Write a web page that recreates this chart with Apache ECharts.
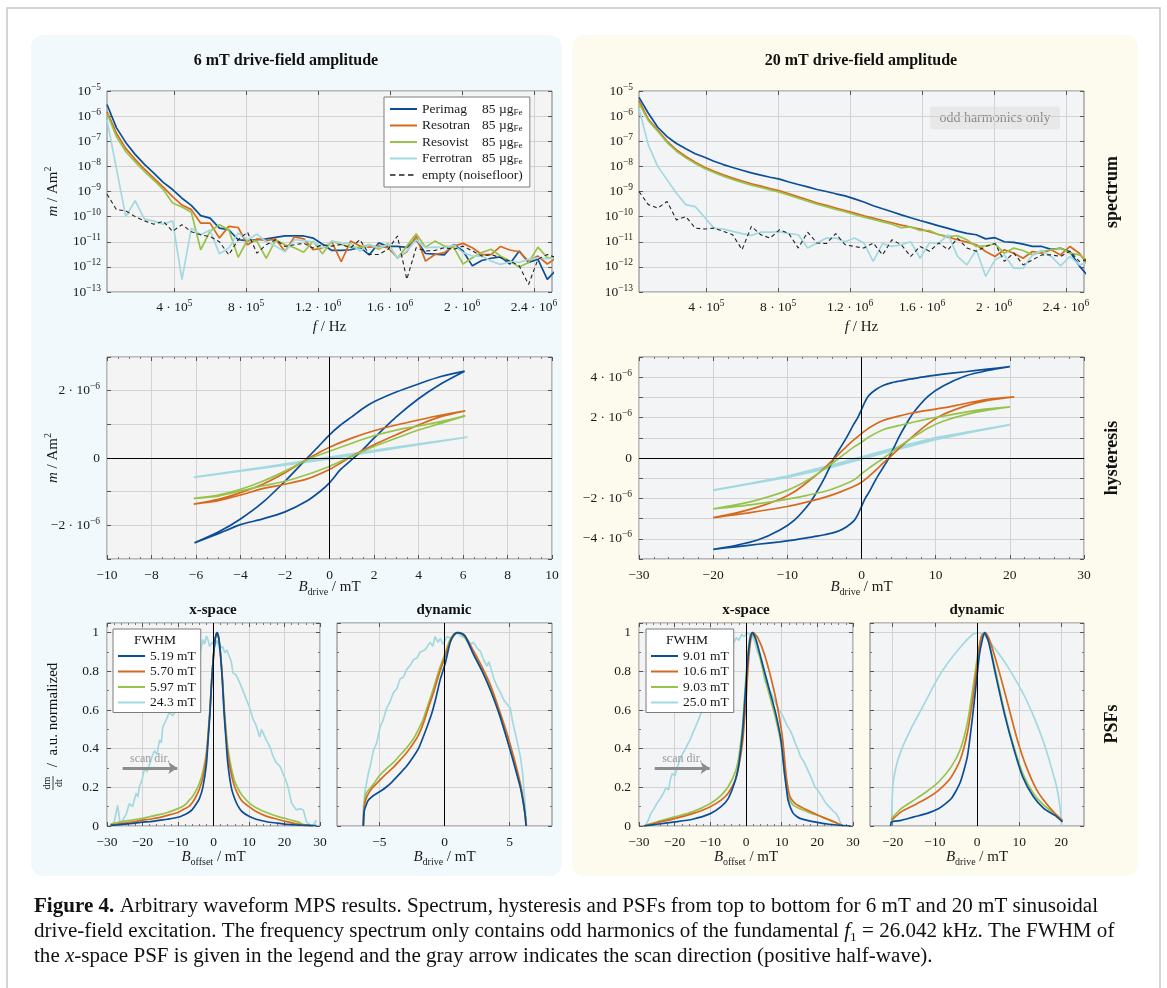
<!DOCTYPE html>
<html><head><meta charset="utf-8">
<script src="https://cdn.jsdelivr.net/npm/echarts@6/dist/echarts.min.js"></script>
<style>html,body{margin:0;padding:0;background:#fff}#c{width:1167px;height:988px}</style>
</head><body><div id="c"></div>
<script>
// ---------------- DATA ----------------
const F1 = 26042; // fundamental [Hz]
const harmonicOrders = [1,3,5,7,9,11,13,15,17,19,21,23,25,27,29,31,33,35,37,39,41,43,45,47,49,51,53,55,57,59,61,63,65,67,69,71,73,75,77,79,81,83,85,87,89,91,93,95,97];
const specTicks = [4e5, 8e5, 1.2e6, 1.6e6, 2e6, 2.4e6];
const specNames = ['Perimag','Resotran','Resovist','Ferrotran','empty (noisefloor)'];
const fwhm6 = ['5.19 mT','5.70 mT','5.97 mT','24.3 mT'];
const fwhm20 = ['9.01 mT','10.6 mT','9.03 mT','25.0 mT'];

// spectra, 6 mT (Am^2, at odd harmonics)
const perimag6 = [2.9e-6,3.5e-7,9e-8,3e-8,1.2e-8,5.4e-9,2.3e-9,1.2e-9,5.4e-10,2.8e-10,1.1e-10,8.7e-11,3.5e-11,3e-11,1.2e-11,1.1e-11,1.2e-11,1.3e-11,1.5e-11,1.7e-11,1.7e-11,1.7e-11,1.4e-11,8e-12,4.5e-12,4.5e-12,4.8e-12,6e-12,3e-12,9e-12,6.5e-12,6.5e-12,6e-12,1.2e-11,3.4e-12,3.2e-12,3e-12,7.8e-12,4.3e-12,1.1e-12,1.8e-12,2.2e-12,2.5e-12,1.3e-12,4.3e-12,1.5e-12,2e-12,3.2e-13,8e-13];
const resotran6 = [1.5e-6,2.1e-7,5.2e-8,1.9e-8,7.7e-9,3.4e-9,1.5e-9,6.3e-10,2.9e-10,1.9e-10,5.5e-11,5.5e-11,1.4e-11,4.1e-11,3.7e-11,7.6e-12,1.3e-11,1.1e-11,1.3e-11,4.1e-12,1.55e-11,1.3e-11,4.8e-12,5.6e-12,9.8e-12,1.6e-12,1.06e-11,6.7e-12,6.1e-12,6.7e-12,5.8e-12,2.3e-12,4e-12,1.7e-11,1.7e-12,3.1e-12,3.7e-12,6.7e-12,8.6e-12,5.8e-12,3.1e-12,3.1e-12,6.5e-12,4.7e-12,4e-12,1.7e-12,2.7e-12,1.3e-12,2.3e-12];
const resovist6 = [1.3e-6,1.55e-7,3.9e-8,1.5e-8,6.3e-9,2.8e-9,1.2e-9,3.5e-10,2.4e-10,1.5e-10,4.8e-12,2.6e-11,4.8e-11,3e-11,2.4e-12,1.2e-11,1.05e-11,2.2e-12,1.2e-11,7.6e-12,5.8e-12,3.8e-12,1.05e-11,3.3e-12,1.06e-11,7.8e-12,6.1e-12,5.8e-12,7.8e-12,5e-12,8.3e-12,2.2e-12,6.7e-12,2.1e-11,6.1e-12,1.06e-11,6.7e-12,6.1e-12,1.3e-12,2.3e-12,3.7e-12,5e-12,2.7e-12,1.7e-12,9.8e-13,1.5e-12,6.1e-12,2.3e-12,2.3e-12];
const ferrotran6 = [7e-7,8.5e-9,1e-10,4.3e-10,8e-11,6.6e-11,5e-11,6.8e-11,3.1e-13,3.5e-11,1.9e-11,2.9e-11,3.3e-12,5.6e-12,2.2e-11,1.2e-11,2e-11,1e-11,6.7e-12,4e-12,1.2e-11,1.1e-11,9.8e-12,5.6e-12,1.06e-11,9.1e-12,8.3e-12,4.3e-12,7.8e-12,5.8e-12,7.8e-12,2.3e-12,4.3e-12,1.2e-11,5.8e-12,6.1e-12,5.8e-12,7.4e-12,3.7e-12,2.7e-12,2.7e-12,1.7e-12,1.26e-12,1.6e-12,1.5e-12,2e-12,2.3e-12,2.1e-12,2.3e-12];
const empty6 = [7.9e-10,1.9e-10,1.7e-10,1e-10,6.8e-11,5e-11,6.5e-11,2.6e-11,4.8e-11,2.5e-11,1.9e-11,1.6e-11,1e-11,3e-12,1.2e-11,2.4e-11,3.5e-12,7.6e-12,1.2e-11,6.5e-12,7.6e-12,8.7e-12,5.6e-12,7.6e-12,6.7e-12,7.8e-12,5.8e-12,1.2e-11,3.1e-12,3.1e-12,5e-12,1.7e-11,3.2e-13,5.8e-12,4.3e-12,4.5e-12,5.8e-12,5e-12,6.7e-12,4.3e-12,2.7e-12,3.1e-12,2.3e-12,1.7e-12,1.1e-12,2e-13,2e-12,3.1e-12,2.3e-12];

// spectra, 20 mT
const perimag20 = [5.6e-6,1.3e-6,3.6e-7,1.53e-7,8.1e-8,5e-8,3.2e-8,2.3e-8,1.6e-8,1.18e-8,9e-9,7e-9,5.5e-9,4.5e-9,3.7e-9,3.1e-9,2.4e-9,1.9e-9,1.53e-9,1.2e-9,1e-9,8.1e-10,6.7e-10,5.1e-10,3.8e-10,2.7e-10,2.05e-10,1.56e-10,1.18e-10,9e-11,7e-11,5.5e-11,4.3e-11,3.4e-11,2.65e-11,2.15e-11,1.9e-11,1.3e-11,1.45e-11,1e-11,9.5e-12,8e-12,6.5e-12,6.5e-12,5e-12,5.5e-12,4e-12,1.1e-12,4e-13];
const resotran20 = [4.1e-6,7.5e-7,2.8e-7,1e-7,4.5e-8,2.46e-8,1.47e-8,9.3e-9,6.4e-9,4.6e-9,3.4e-9,2.6e-9,2e-9,1.63e-9,1.3e-9,1.06e-9,8.1e-10,6.1e-10,4.7e-10,3.5e-10,2.8e-10,2.2e-10,1.76e-10,1.38e-10,1.08e-10,8.7e-11,7e-11,5.7e-11,4.6e-11,3.8e-11,3.2e-11,2.5e-11,1.95e-11,1.53e-11,1.2e-11,9.7e-12,7.6e-12,4.1e-12,2.6e-12,4.8e-12,3.5e-12,2.2e-12,4.1e-12,3.5e-12,4.8e-12,3e-12,6.5e-12,3.5e-12,1.1e-12];
const resovist20 = [3.2e-6,6.6e-7,2.5e-7,8.9e-8,4e-8,2.18e-8,1.3e-8,8.2e-9,5.7e-9,4.1e-9,3e-9,2.3e-9,1.8e-9,1.44e-9,1.16e-9,9.4e-10,7.1e-10,5.4e-10,4.1e-10,3.1e-10,2.5e-10,1.93e-10,1.56e-10,1.22e-10,9.5e-11,7.7e-11,6.2e-11,5e-11,3.6e-11,3.9e-11,2.8e-11,2.8e-11,1.9e-11,1.63e-11,1.73e-11,1.2e-11,6.5e-12,6.8e-12,8.3e-12,3.5e-12,5.6e-12,4.5e-12,3e-12,4.1e-12,4.8e-12,5.6e-12,3.5e-12,3e-12,1.65e-12];
const ferrotran20 = [2e-6,7e-8,1e-8,2.9e-9,8.5e-10,3e-10,2.5e-10,9.5e-11,3.5e-11,3.2e-11,2.6e-11,2.1e-11,1.8e-11,2.4e-11,2.4e-11,2.5e-11,2.1e-11,1.9e-11,5.6e-12,8.9e-12,1.4e-11,1.4e-11,1e-11,1.4e-11,8.9e-12,1.65e-12,8.5e-12,6.5e-12,7.6e-12,1e-11,2.2e-12,8.9e-12,8.9e-12,1.9e-11,2.6e-12,1.2e-12,4.8e-12,4.2e-13,1.9e-12,3e-12,8.9e-13,8.9e-13,3e-12,4.6e-12,2.6e-12,1.1e-12,2.6e-12,1.2e-12,1.5e-12];
const empty20 = [1e-9,3e-10,2.2e-10,4e-10,7.4e-11,1e-10,3.5e-11,3.2e-11,3.5e-11,2.6e-11,1.9e-11,4.8e-12,4.1e-11,1.9e-11,1.4e-11,3e-11,2.1e-11,5.6e-12,2.4e-11,8.9e-12,8.5e-12,2.1e-11,7.6e-12,6.5e-12,5.6e-12,8.9e-12,3e-12,1.2e-11,7.6e-12,2.6e-12,6.5e-12,4.2e-12,8.9e-12,4.8e-12,1.4e-11,5.6e-12,4.2e-12,6.5e-12,8.5e-12,1.65e-12,3.6e-12,1.2e-12,1.9e-12,3e-12,3e-12,2.6e-12,4.2e-12,1.65e-12,2e-12];

// hysteresis loops [B_drive mT, m Am^2], 6 mT
const hystPerimag6 = [[-6.07,-2.52e-6],[-5,-2.25e-6],[-4,-1.98e-6],[-3,-1.81e-6],[-2,-1.6e-6],[-1,-1.27e-6],[-0.4,-0.98e-6],[0,-0.74e-6],[0.5,-0.34e-6],[1,-0.05e-6],[1.5,0.25e-6],[2,0.59e-6],[3,1.22e-6],[4,1.76e-6],[5,2.2e-6],[6.07,2.58e-6],[5,2.42e-6],[4,2.2e-6],[3,1.96e-6],[2,1.67e-6],[1.5,1.47e-6],[1,1.22e-6],[0.5,0.98e-6],[0,0.69e-6],[-0.5,0.34e-6],[-1,0],[-2,-0.69e-6],[-3,-1.32e-6],[-4,-1.81e-6],[-5,-2.2e-6],[-6.07,-2.52e-6]];
const hystResotran6 = [[-6.1,-1.37e-6],[-5,-1.27e-6],[-4,-1.1e-6],[-3,-0.91e-6],[-2,-0.78e-6],[-1,-0.62e-6],[0,-0.34e-6],[0.5,-0.15e-6],[1,0.05e-6],[2,0.39e-6],[3,0.69e-6],[4,0.98e-6],[5,1.23e-6],[6.1,1.4e-6],[5,1.27e-6],[4,1.13e-6],[3,0.98e-6],[2,0.81e-6],[1,0.59e-6],[0,0.32e-6],[-0.5,0.15e-6],[-1,-0.03e-6],[-2,-0.44e-6],[-3,-0.78e-6],[-4,-1.03e-6],[-5,-1.23e-6],[-6.1,-1.37e-6]];
const hystResovist6 = [[-6.1,-1.2e-6],[-5,-1.13e-6],[-4,-0.98e-6],[-3,-0.83e-6],[-2,-0.69e-6],[-1,-0.49e-6],[0,-0.25e-6],[1,0.05e-6],[2,0.34e-6],[3,0.59e-6],[4,0.83e-6],[5,1.03e-6],[6.1,1.25e-6],[5,1.08e-6],[4,0.95e-6],[3,0.83e-6],[2,0.66e-6],[1,0.44e-6],[0,0.2e-6],[-1,-0.05e-6],[-2,-0.39e-6],[-3,-0.69e-6],[-4,-0.93e-6],[-5,-1.1e-6],[-6.1,-1.2e-6]];
const hystFerrotran6 = [[-6.1,-0.57e-6],[-3,-0.3e-6],[0,-0.02e-6],[3,0.3e-6],[6.2,0.62e-6],[3,0.32e-6],[0,0.02e-6],[-3,-0.28e-6],[-6.1,-0.57e-6]];

// hysteresis loops, 20 mT
const hystPerimag20 = [[-20,-4.52e-6],[-17,-4.4e-6],[-14,-4.27e-6],[-11,-4.15e-6],[-9,-4.05e-6],[-7,-3.93e-6],[-6,-3.87e-6],[-5,-3.8e-6],[-4,-3.72e-6],[-3,-3.6e-6],[-2,-3.4e-6],[-1,-3.1e-6],[-0.5,-2.8e-6],[0,-2.4e-6],[0.5,-2.0e-6],[1,-1.7e-6],[2,-1.02e-6],[3,-0.42e-6],[3.7,0],[5,1.0e-6],[6,1.66e-6],[7,2.24e-6],[9,3.06e-6],[11,3.56e-6],[14,4.06e-6],[17,4.33e-6],[20,4.52e-6],[17,4.4e-6],[14,4.27e-6],[11,4.15e-6],[9,4.05e-6],[7,3.93e-6],[6,3.87e-6],[5,3.8e-6],[4,3.72e-6],[3,3.6e-6],[2,3.4e-6],[1,3.1e-6],[0.5,2.8e-6],[0,2.4e-6],[-0.5,2.0e-6],[-1,1.7e-6],[-2,1.02e-6],[-3,0.42e-6],[-3.7,0],[-5,-1.0e-6],[-6,-1.66e-6],[-7,-2.24e-6],[-9,-3.06e-6],[-11,-3.56e-6],[-14,-4.06e-6],[-17,-4.33e-6],[-20,-4.52e-6]];
const hystResotran20 = [[-20,-2.95e-6],[-15,-2.7e-6],[-10,-2.4e-6],[-7,-2.15e-6],[-5,-1.95e-6],[-3,-1.7e-6],[-1,-1.4e-6],[0,-1.2e-6],[1,-0.91e-6],[2,-0.58e-6],[3,-0.22e-6],[3.7,0],[5,0.45e-6],[7,1.1e-6],[9,1.7e-6],[11,2.15e-6],[14,2.57e-6],[17,2.85e-6],[20.6,3.03e-6],[17,2.9e-6],[14,2.7e-6],[11,2.48e-6],[7,2.24e-6],[5,2.07e-6],[3,1.87e-6],[1,1.49e-6],[0,1.21e-6],[-1,0.91e-6],[-2,0.58e-6],[-3,0.22e-6],[-3.6,0],[-5,-0.5e-6],[-7,-1.11e-6],[-9,-1.66e-6],[-11,-2.04e-6],[-14,-2.43e-6],[-17,-2.73e-6],[-20,-2.95e-6]];
const hystResovist20 = [[-20,-2.52e-6],[-15,-2.32e-6],[-10,-2.04e-6],[-7,-1.82e-6],[-5,-1.66e-6],[-3,-1.41e-6],[-1,-1.08e-6],[0,-0.78e-6],[1,-0.5e-6],[2,-0.25e-6],[3,0],[5,0.55e-6],[7,1.04e-6],[9,1.49e-6],[11,1.82e-6],[14,2.15e-6],[17,2.37e-6],[20,2.53e-6],[17,2.43e-6],[14,2.27e-6],[11,2.07e-6],[9,1.94e-6],[7,1.77e-6],[5,1.6e-6],[3,1.41e-6],[1,1.04e-6],[0,0.78e-6],[-1,0.55e-6],[-2,0.28e-6],[-3,0],[-5,-0.55e-6],[-7,-1.04e-6],[-9,-1.44e-6],[-11,-1.74e-6],[-14,-2.07e-6],[-17,-2.32e-6],[-20,-2.52e-6]];
const hystFerrotran20 = [[-20,-1.6e-6],[-15,-1.28e-6],[-10,-0.95e-6],[-5,-0.55e-6],[0,-0.05e-6],[5,0.45e-6],[10,0.92e-6],[15,1.3e-6],[20,1.65e-6],[15,1.33e-6],[10,1.0e-6],[5,0.55e-6],[0,0.05e-6],[-5,-0.45e-6],[-10,-0.9e-6],[-15,-1.26e-6],[-20,-1.6e-6]];

// x-space PSFs, 6 mT  [B_offset mT, normalized]
const xsPerimag6 = [[-29,0.003],[-27,0.006],[-25,0.01],[-23,0.013],[-20,0.02],[-18,0.022],[-15,0.03],[-13,0.035],[-10,0.045],[-8,0.06],[-7,0.07],[-6,0.085],[-5,0.11],[-4,0.14],[-3,0.2],[-2,0.32],[-1.5,0.45],[-1,0.58],[-0.5,0.75],[0,0.88],[0.5,0.97],[1,1.0],[1.5,0.97],[2,0.88],[2.5,0.75],[3,0.58],[3.5,0.45],[4,0.33],[5,0.2],[6,0.14],[7,0.1],[8,0.075],[10,0.05],[12,0.035],[15,0.022],[18,0.015],[20,0.01],[23,0.006],[25,0.004],[27,0.003],[29,0.002]];
const xsResotran6 = [[-29,0.005],[-27,0.01],[-25,0.015],[-23,0.02],[-20,0.03],[-18,0.035],[-15,0.045],[-13,0.055],[-10,0.07],[-8,0.09],[-7,0.1],[-6,0.12],[-5,0.15],[-4,0.19],[-3,0.25],[-2,0.36],[-1.5,0.47],[-1,0.6],[-0.5,0.76],[0,0.88],[0.5,0.97],[1,1.0],[1.5,0.97],[2,0.88],[2.5,0.76],[3,0.6],[3.5,0.48],[4,0.38],[5,0.27],[6,0.2],[7,0.16],[8,0.13],[10,0.1],[12,0.075],[15,0.05],[18,0.035],[20,0.025],[23,0.012],[25,0.005],[27,0.002],[28,0]];
const xsResovist6 = [[-29,0.01],[-27,0.018],[-25,0.025],[-23,0.03],[-20,0.04],[-18,0.048],[-15,0.06],[-13,0.07],[-10,0.09],[-8,0.11],[-7,0.13],[-6,0.15],[-5,0.18],[-4,0.22],[-3,0.28],[-2,0.38],[-1.5,0.48],[-1,0.6],[-0.5,0.76],[0,0.88],[0.5,0.97],[1,1.0],[1.5,0.97],[2,0.89],[2.5,0.77],[3,0.62],[3.5,0.5],[4,0.41],[5,0.3],[6,0.23],[7,0.19],[8,0.16],[10,0.12],[12,0.095],[15,0.07],[18,0.05],[20,0.04],[22,0.03],[24,0.02],[25,0.01],[27,0.003],[28,0]];
const xsFerrotran6 = [[-28.9,0],[-28,0.02],[-27,0.107],[-26.3,0.01],[-25.6,0.03],[-24.6,0.06],[-23.7,0.116],[-22.8,0.1],[-21.8,0.17],[-21.3,0.15],[-20.9,0.203],[-20.1,0.24],[-19.4,0.3],[-18.7,0.28],[-18,0.32],[-17.3,0.36],[-16.6,0.39],[-15.9,0.37],[-15.2,0.445],[-14.7,0.43],[-14.3,0.51],[-13.3,0.55],[-12.4,0.59],[-11.5,0.57],[-10.5,0.605],[-10,0.64],[-9.6,0.67],[-8.6,0.7],[-7.7,0.775],[-6.7,0.76],[-5.8,0.827],[-5,0.86],[-4.4,0.922],[-3.7,0.9],[-3,0.965],[-2.5,0.94],[-2,0.983],[-1.5,0.96],[-1.1,0.93],[-0.4,0.95],[0.3,0.93],[1,0.96],[1.7,0.913],[2.5,0.93],[3.2,0.896],[3.8,0.91],[4.4,0.879],[5,0.85],[5.5,0.792],[6.4,0.78],[7.4,0.74],[8.3,0.7],[9.3,0.653],[10.2,0.61],[11.2,0.55],[12,0.52],[13,0.46],[13.5,0.5],[14,0.48],[15,0.44],[15.9,0.41],[16.8,0.36],[17.7,0.326],[18.7,0.31],[19.6,0.27],[20.3,0.24],[21,0.2],[21.5,0.16],[22,0.118],[22.7,0.1],[23.4,0.083],[24.3,0.09],[25.3,0.083],[25.8,0.05],[26.2,0.02],[27,0.01],[27.6,0],[28.3,0.01],[29,0.03]];

// dynamic PSFs, 6 mT  [B_drive mT, normalized]
const dynPerimag6 = [[-6.23,0],[-6.2,0.04],[-6.15,0.08],[-6.0,0.11],[-5.85,0.133],[-5.5,0.155],[-5.2,0.168],[-4.8,0.185],[-4.44,0.203],[-4,0.23],[-3.41,0.272],[-2.9,0.31],[-2.38,0.359],[-2,0.4],[-1.62,0.463],[-1.3,0.52],[-0.97,0.584],[-0.65,0.665],[-0.33,0.757],[0.05,0.84],[0.44,0.95],[0.7,0.985],[0.95,1.0],[1.3,0.995],[1.6,0.98],[2.23,0.887],[2.9,0.8],[3.51,0.705],[4.2,0.58],[4.79,0.45],[5.3,0.33],[5.82,0.2],[6.05,0.12],[6.2,0.05],[6.26,0]];
const dynResotran6 = [[-6.23,0],[-6.2,0.06],[-6.1,0.12],[-5.9,0.16],[-5.5,0.2],[-5,0.235],[-4.44,0.272],[-3.9,0.305],[-3.41,0.341],[-2.9,0.38],[-2.38,0.428],[-2,0.47],[-1.62,0.532],[-1.2,0.62],[-0.85,0.688],[-0.4,0.79],[0,0.867],[0.4,0.95],[0.7,0.99],[1.1,1.0],[1.5,0.99],[2.23,0.906],[2.9,0.82],[3.51,0.731],[4.2,0.6],[4.79,0.48],[5.3,0.36],[5.82,0.22],[6.05,0.13],[6.2,0.05],[6.26,0]];
const dynResovist6 = [[-6.23,0],[-6.18,0.1],[-6.0,0.17],[-5.5,0.212],[-5,0.26],[-4.44,0.298],[-3.9,0.33],[-3.41,0.367],[-2.9,0.405],[-2.38,0.451],[-2,0.5],[-1.62,0.555],[-1.2,0.64],[-0.85,0.711],[-0.4,0.81],[0,0.884],[0.4,0.96],[0.7,0.99],[1,1.0],[1.4,0.99],[2.23,0.897],[2.9,0.8],[3.51,0.714],[4.2,0.58],[4.79,0.455],[5.3,0.34],[5.82,0.21],[6.05,0.12],[6.2,0.05],[6.3,0]];
const dynFerrotran6 = [[-6.25,0],[-6.22,0.1],[-6.1,0.18],[-5.85,0.27],[-5.7,0.31],[-5.46,0.39],[-5.2,0.43],[-4.95,0.51],[-4.7,0.55],[-4.44,0.61],[-4.2,0.64],[-3.92,0.69],[-3.66,0.71],[-3.41,0.76],[-3.15,0.77],[-2.9,0.81],[-2.64,0.83],[-2.38,0.86],[-2.1,0.87],[-1.87,0.9],[-1.5,0.91],[-1.1,0.95],[-0.9,0.93],[-0.72,0.98],[-0.5,0.95],[-0.33,0.97],[-0.1,0.94],[0.18,0.98],[0.55,0.97],[0.95,1.0],[1.3,0.98],[1.72,0.97],[2.0,0.94],[2.23,0.95],[2.5,0.92],[2.74,0.905],[3.0,0.86],[3.26,0.827],[3.4,0.85],[3.51,0.827],[3.8,0.76],[4.03,0.723],[4.3,0.69],[4.54,0.653],[4.8,0.63],[5.05,0.61],[5.2,0.55],[5.31,0.515],[5.6,0.43],[5.82,0.36],[6.0,0.27],[6.08,0.2],[6.2,0.1],[6.26,0]];

// x-space PSFs, 20 mT
const xsPerimag20 = [[-28.7,0],[-25,0.009],[-20,0.021],[-15,0.035],[-10,0.064],[-7,0.1],[-5,0.142],[-3,0.237],[-2,0.32],[-1,0.478],[-0.5,0.6],[0,0.737],[0.5,0.86],[1,0.948],[1.4,0.99],[1.8,1.0],[2.8,0.965],[4.3,0.861],[6.3,0.722],[8.3,0.584],[9.8,0.445],[10.8,0.272],[11.3,0.2],[11.8,0.133],[13.3,0.064],[15.3,0.038],[19.3,0.021],[23.3,0.009],[29.3,0]];
const xsResotran20 = [[-28.7,0],[-25,0.017],[-20,0.038],[-15,0.064],[-10,0.1],[-7,0.134],[-5,0.17],[-3,0.237],[-2,0.31],[-1,0.428],[-0.5,0.53],[0,0.65],[0.5,0.8],[1,0.913],[1.5,0.98],[2,1.0],[3.3,0.974],[5.3,0.88],[7.8,0.705],[9.3,0.568],[10.3,0.445],[11.3,0.255],[12.3,0.152],[13.8,0.116],[17.3,0.081],[21.3,0.047],[25.3,0.017],[27.3,0]];
const xsResovist20 = [[-28.7,0],[-25,0.021],[-20,0.047],[-15,0.073],[-10,0.116],[-7,0.159],[-5,0.203],[-3,0.28],[-2,0.359],[-1,0.51],[-0.5,0.64],[0,0.77],[0.5,0.89],[1,0.965],[1.7,1.0],[2.8,0.957],[4.3,0.84],[6.3,0.696],[8.3,0.557],[9.8,0.428],[10.8,0.272],[11.8,0.152],[13.3,0.107],[17.3,0.073],[21.3,0.047],[25.3,0.017],[27.3,0]];
const xsFerrotran20 = [[-28.2,0],[-27.4,0.03],[-26.7,0.064],[-25.8,0.09],[-25,0.116],[-24.1,0.14],[-23.2,0.168],[-22.4,0.2],[-21.7,0.186],[-21.2,0.24],[-20.7,0.272],[-19.9,0.26],[-19.2,0.307],[-18.4,0.35],[-17.7,0.376],[-16.7,0.41],[-15.7,0.445],[-14.7,0.49],[-13.7,0.532],[-12.9,0.57],[-12.2,0.6],[-11.4,0.61],[-10.7,0.653],[-10.2,0.71],[-9.7,0.74],[-9,0.73],[-8.2,0.775],[-7.4,0.8],[-6.7,0.827],[-6,0.82],[-5.2,0.862],[-4.7,0.9],[-4.2,0.931],[-3.4,0.95],[-2.7,0.974],[-2,0.96],[-1.2,0.991],[-0.5,0.98],[0.3,1.0],[1,0.99],[1.8,0.983],[2.5,0.95],[3.3,0.896],[3.8,0.9],[4.3,0.861],[4.8,0.8],[5.3,0.749],[5.8,0.73],[6.3,0.705],[7,0.69],[7.8,0.653],[8.5,0.63],[9.3,0.6],[10,0.58],[10.8,0.549],[11.5,0.52],[12.3,0.497],[13,0.47],[13.8,0.428],[14.5,0.4],[15.3,0.359],[16.3,0.33],[17.3,0.29],[18.3,0.25],[19.3,0.203],[20.3,0.18],[21.3,0.152],[22.3,0.12],[23.3,0.1],[24.3,0.08],[25.3,0.064],[26,0.04],[26.8,0]];

// dynamic PSFs, 20 mT
const dynPerimag20 = [[-20.5,0],[-20.3,0.021],[-18,0.029],[-15,0.047],[-12,0.064],[-9.07,0.09],[-6.1,0.142],[-4,0.225],[-2.29,0.359],[-1.02,0.572],[0,0.775],[0.6,0.89],[1.1,0.948],[1.78,1.0],[2.8,0.948],[4.49,0.775],[6.6,0.572],[8.73,0.399],[10.85,0.254],[13.4,0.151],[15.9,0.09],[18.5,0.055],[20.3,0.021]];
const dynResotran20 = [[-20.3,0.029],[-18,0.073],[-15,0.107],[-12,0.142],[-9.07,0.186],[-6.1,0.254],[-4,0.341],[-2.29,0.481],[-1.02,0.653],[0,0.827],[0.6,0.93],[1.1,0.983],[1.95,1.0],[3.22,0.948],[5.34,0.792],[7.46,0.619],[9.58,0.445],[11.7,0.307],[14.2,0.186],[16.8,0.107],[19.3,0.047],[20.3,0.029]];
const dynResovist20 = [[-20.3,0.038],[-18,0.09],[-15,0.133],[-12,0.177],[-9.07,0.229],[-6.1,0.307],[-4,0.394],[-2.29,0.532],[-1.02,0.705],[0,0.862],[0.6,0.94],[1.1,0.983],[1.78,1.0],[2.8,0.957],[4.49,0.792],[6.6,0.584],[8.73,0.411],[10.85,0.272],[13.4,0.168],[15.9,0.107],[18.5,0.064],[20.3,0.029]];
const dynFerrotran20 = [[-20.3,0],[-20.0,0.203],[-19.2,0.307],[-18,0.39],[-15.8,0.497],[-13.7,0.584],[-11.6,0.67],[-9.5,0.757],[-6.9,0.844],[-4.4,0.913],[-2.29,0.965],[-1.02,0.991],[0.25,1.0],[1.53,0.991],[3.22,0.948],[5.34,0.887],[7.46,0.818],[9.58,0.74],[11.7,0.653],[13.8,0.549],[15.9,0.428],[17.6,0.307],[18.9,0.203],[19.7,0.1],[20.1,0]];

// scan-direction arrow (data coords of the x-space plots)
const scanArrow = [[-25.6, 0.3], [-10.2, 0.3]];

// ---------------- STYLE / LAYOUT ----------------
const FONT = '"Liberation Serif", "DejaVu Serif", serif';
const C = {blue:'#0b4e98', orange:'#d6691b', green:'#97c34c', cyan:'#a2d9e1', black:'#222'};
const GRIDC = '#d2d2d2';
const TXT = '#1a1a1a';
const FS = 13.5;

const RICH = {
  b: {fontFamily: FONT, fontSize: FS, lineHeight: 18, color: TXT},
  sup: {fontFamily: FONT, fontSize: 9.5, lineHeight: 10, verticalAlign: 'top', color: TXT},
};
const NRICH = {
  i: {fontFamily: FONT, fontSize: 15, fontStyle: 'italic', lineHeight: 20, color: TXT},
  t: {fontFamily: FONT, fontSize: 15, lineHeight: 20, color: TXT},
  sup: {fontFamily: FONT, fontSize: 10, lineHeight: 12, verticalAlign: 'top', color: TXT},
  sub: {fontFamily: FONT, fontSize: 10, lineHeight: 10, verticalAlign: 'bottom', color: TXT},
};

const num = v => `{b|${v < 0 ? '−' : ''}${Math.abs(+v.toFixed(3))}}`;
const specXFmt = v => { const e = Math.floor(Math.log10(v) + 1e-9); const m = +(v / Math.pow(10, e)).toFixed(2); return `{b|${m} · 10}{sup|${e}}`; };
const logFmt = v => { const e = Math.round(Math.log10(v)); return `{b|10}{sup|${e < 0 ? '−' : ''}${Math.abs(e)}}`; };
const hystFmt = v => { const n = Math.round(v * 1e6); if (n === 0) return '{b|0}'; if (n % 2) return ''; return `{b|${n < 0 ? '−' : ''}${Math.abs(n)} · 10}{sup|−6}`; };
const psfFmt = v => v > 1.001 ? '' : `{b|${+v.toFixed(1)}}`;

const grids = [
  {left:107, top:91, width:445, height:201},
  {left:639, top:91, width:445, height:201},
  {left:107, top:357, width:445, height:202},
  {left:639, top:357, width:445, height:202},
  {left:107, top:623, width:213, height:203},
  {left:337, top:623, width:215, height:203},
  {left:639, top:623, width:214, height:203},
  {left:870, top:623, width:214, height:203},
].map((g, i) => Object.assign(g, {show:true, backgroundColor: [0,2,4,5].includes(i) ? '#f4f4f4' : '#f3f4f6', borderColor:'#7d7d7d', borderWidth:1, outerBoundsMode:'none', containLabel:false}));

const TICK = {show: true, inside: true, length: 4, lineStyle: {color: '#555'}};
const MINOR = n => ({show: true, splitNumber: n, length: 2, lineStyle: {color: '#777'}});
function axisBase(gi, extra) {
  return Object.assign({
    gridIndex: gi, type: 'value',
    axisLine: {show: false, onZero: false},
    axisTick: TICK,
    axisLabel: {show: true, margin: 7, rich: RICH, color: TXT, formatter: num},
    splitLine: {show: true, lineStyle: {color: GRIDC, width: 1}},
    nameLocation: 'middle', nameMoveOverlap: false, nameTextStyle: {rich: NRICH}
  }, extra);
}
const custTick = vals => Object.assign({}, TICK, {customValues: vals});

const xAxes = [
  axisBase(0, {min: F1, max: 2.5e6, axisTick: custTick(specTicks), axisLabel:{customValues: specTicks, formatter: specXFmt, rich: RICH, margin: 6}, name:'{i|f}{t| / Hz}', nameGap: 25}),
  axisBase(1, {min: F1, max: 2.5e6, axisTick: custTick(specTicks), axisLabel:{customValues: specTicks, formatter: specXFmt, rich: RICH, margin: 6}, name:'{i|f}{t| / Hz}', nameGap: 25}),
  axisBase(2, {min: -10, max: 10, interval: 2, minorTick: MINOR(4), name:'{i|B}{sub|drive}{t| / mT}', nameGap: 18}),
  axisBase(3, {min: -30, max: 30, interval: 10, minorTick: MINOR(5), name:'{i|B}{sub|drive}{t| / mT}', nameGap: 18}),
  axisBase(4, {min: -30, max: 30, interval: 10, minorTick: MINOR(5), name:'{i|B}{sub|offset}{t| / mT}', nameGap: 21}),
  axisBase(5, {min: -8.25, max: 8.25, axisTick: custTick([-5,0,5]), axisLabel:{customValues:[-5,0,5], formatter: num, rich: RICH, margin: 7}, name:'{i|B}{sub|drive}{t| / mT}', nameGap: 21}),
  axisBase(6, {min: -30, max: 30, interval: 10, minorTick: MINOR(5), name:'{i|B}{sub|offset}{t| / mT}', nameGap: 21}),
  axisBase(7, {min: -25.4, max: 25.4, axisTick: custTick([-20,-10,0,10,20]), axisLabel:{customValues:[-20,-10,0,10,20], formatter: num, rich: RICH, margin: 7}, name:'{i|B}{sub|drive}{t| / mT}', nameGap: 21}),
];
const yName = '{i|m}{t| / Am}{sup|2}';
const yAxes = [
  axisBase(0, {type:'log', logBase:10, min:1e-13, max:1e-5, axisLabel:{formatter: logFmt, rich: RICH, margin: 6}, name: yName, nameGap: 44}),
  axisBase(1, {type:'log', logBase:10, min:1e-13, max:1e-5, axisLabel:{formatter: logFmt, rich: RICH, margin: 6}}),
  axisBase(2, {min:-3e-6, max:3e-6, interval:1e-6, axisLabel:{formatter: hystFmt, rich: RICH, margin: 7}, name: yName, nameGap: 44}),
  axisBase(3, {min:-5e-6, max:5e-6, interval:1e-6, axisLabel:{formatter: hystFmt, rich: RICH, margin: 7}}),
  axisBase(4, {min:0, max:1.05, interval:0.2, minorTick: MINOR(2), axisLabel:{formatter: psfFmt, rich: RICH, margin: 8}}),
  axisBase(5, {min:0, max:1.05, interval:0.2, minorTick: MINOR(2), axisLabel:{show:false}}),
  axisBase(6, {min:0, max:1.05, interval:0.2, minorTick: MINOR(2), axisLabel:{formatter: psfFmt, rich: RICH, margin: 8}}),
  axisBase(7, {min:0, max:1.05, interval:0.2, minorTick: MINOR(2), axisLabel:{show:false}}),
];
// mirrored (tick-only) axes on top / right, as pgfplots draws them
const mirrorX = xAxes.map(a => Object.assign({}, a, {position: 'top', name: '', axisLabel: Object.assign({}, a.axisLabel, {show: false}), splitLine: {show: false}}));
const mirrorY = yAxes.map(a => Object.assign({}, a, {position: 'right', name: '', axisLabel: Object.assign({}, a.axisLabel, {show: false}), splitLine: {show: false}}));

// ---------------- SERIES ----------------
const freqs = harmonicOrders.map(n => n * F1);
const spec = vals => vals.map((v, i) => [freqs[i], v]);
function ser(name, data, ai, color, extra) {
  return Object.assign({
    type: 'line', name, data, xAxisIndex: ai, yAxisIndex: ai,
    symbol: 'none', showSymbol: false, clip: true, animation: false,
    lineStyle: {color, width: 1.7}, itemStyle: {color}, emphasis: {disabled: true}, z: 3
  }, extra || {});
}
const zeroLines = (both) => ({
  silent: true, symbol: 'none', animation: false, label: {show: false},
  lineStyle: {color: '#000', width: 1, type: 'solid'},
  data: both ? [{xAxis: 0}, {yAxis: 0}] : [{xAxis: 0}]
});
const arrowLine = {
  silent: true, animation: false, symbol: ['none', 'arrow'], symbolSize: 9,
  lineStyle: {color: '#8c8c8c', width: 3, type: 'solid'},
  label: {show: true, formatter: 'scan dir.', position: 'insideMiddleTop', distance: 3, color: '#9a9a9a', fontFamily: FONT, fontSize: 12},
  data: [[{coord: scanArrow[0]}, {coord: scanArrow[1]}]]
};
const dashed = {lineStyle: {color: C.black, width: 1.1, type: [4, 3]}, itemStyle: {color: C.black}, z: 4};

const series = [
  ser('Perimag', spec(perimag6), 0, C.blue), ser('Resotran', spec(resotran6), 0, C.orange),
  ser('Resovist', spec(resovist6), 0, C.green), ser('Ferrotran', spec(ferrotran6), 0, C.cyan),
  ser('empty (noisefloor)', spec(empty6), 0, C.black, dashed),
  ser('Perimag', spec(perimag20), 1, C.blue), ser('Resotran', spec(resotran20), 1, C.orange),
  ser('Resovist', spec(resovist20), 1, C.green), ser('Ferrotran', spec(ferrotran20), 1, C.cyan),
  ser('empty (noisefloor)', spec(empty20), 1, C.black, dashed),

  ser('h6a', hystFerrotran6, 2, C.cyan, {markLine: zeroLines(true), lineStyle:{color:C.cyan, width:2}}),
  ser('h6b', hystPerimag6, 2, C.blue, {smooth: 0.25}), ser('h6c', hystResotran6, 2, C.orange, {smooth: 0.25}),
  ser('h6d', hystResovist6, 2, C.green, {smooth: 0.25}),
  ser('h20a', hystFerrotran20, 3, C.cyan, {markLine: zeroLines(true), lineStyle:{color:C.cyan, width:2}}),
  ser('h20b', hystPerimag20, 3, C.blue, {smooth: 0.25}), ser('h20c', hystResotran20, 3, C.orange, {smooth: 0.25}),
  ser('h20d', hystResovist20, 3, C.green, {smooth: 0.25}),

  ser(fwhm6[3], xsFerrotran6, 4, C.cyan, {markLine: zeroLines(false)}),
  ser(fwhm6[2], xsResovist6, 4, C.green, {smooth: 0.2, markLine: arrowLine}),
  ser(fwhm6[1], xsResotran6, 4, C.orange, {smooth: 0.2}),
  ser(fwhm6[0], xsPerimag6, 4, C.blue, {smooth: 0.2}),
  ser('d6a', dynFerrotran6, 5, C.cyan, {markLine: zeroLines(false)}),
  ser('d6b', dynResovist6, 5, C.green, {smooth: 0.2}), ser('d6c', dynResotran6, 5, C.orange, {smooth: 0.2}),
  ser('d6d', dynPerimag6, 5, C.blue, {smooth: 0.2}),

  ser(fwhm20[3], xsFerrotran20, 6, C.cyan, {markLine: zeroLines(false)}),
  ser(fwhm20[2], xsResovist20, 6, C.green, {smooth: 0.2, markLine: arrowLine}),
  ser(fwhm20[1], xsResotran20, 6, C.orange, {smooth: 0.2}),
  ser(fwhm20[0], xsPerimag20, 6, C.blue, {smooth: 0.2}),
  ser('d20a', dynFerrotran20, 7, C.cyan, {markLine: zeroLines(false), smooth: 0.2}),
  ser('d20b', dynResovist20, 7, C.green, {smooth: 0.2}), ser('d20c', dynResotran20, 7, C.orange, {smooth: 0.2}),
  ser('d20d', dynPerimag20, 7, C.blue, {smooth: 0.2}),
];

// ---------------- LEGENDS ----------------
const LRICH = {
  n: {fontFamily: FONT, fontSize: 13.5, lineHeight: 16, width: 60, color: TXT},
  t: {fontFamily: FONT, fontSize: 13.5, lineHeight: 16, color: TXT},
  p: {fontFamily: FONT, fontSize: 13.5, lineHeight: 15, color: TXT},
  s: {fontFamily: FONT, fontSize: 9, lineHeight: 9, verticalAlign: 'bottom', color: TXT},
};
const DASH_ICON = 'path://M0,0h5.5v1.4h-5.5z M9,0h5.5v1.4h-5.5z M18,0h5.5v1.4h-5.5z M27,0h0.01v1.4h-0.01z';
const legendBase = {
  orient: 'vertical', backgroundColor: '#fff', borderColor: '#7d7d7d', borderWidth: 1, borderRadius: 0,
  icon: 'rect', itemWidth: 27, itemHeight: 2, selectedMode: false,
  textStyle: {fontFamily: FONT, fontSize: 13.5, color: TXT, rich: LRICH}
};
const legends = [
  Object.assign({}, legendBase, {
    data: specNames.map(n => n.startsWith('empty') ? {name: n, icon: DASH_ICON} : {name: n}),
    left: 384, top: 97, padding: [5, 7, 5, 6], itemGap: 1.5,
    formatter: n => n.startsWith('empty') ? `{t|${n}}` : `{n|${n}}{t|85 µg}{s|Fe}`}),
  Object.assign({}, legendBase, {data: fwhm6, left: 113, top: 629, padding: [20, 5, 3, 5], itemGap: 1.5, formatter: n => `{p|${n}}`}),
  Object.assign({}, legendBase, {data: fwhm20, left: 646, top: 629, padding: [20, 5, 3, 5], itemGap: 1.5, formatter: n => `{p|${n}}`}),
];

// ---------------- ANNOTATIONS ----------------
const ctx = document.createElement('canvas').getContext('2d');
const tw = (t, f) => { ctx.font = f; return ctx.measureText(t).width; };
const CAP = 20.5;
const capL1b = 'Figure 4.';
const capL1 = ' Arbitrary waveform MPS results. Spectrum, hysteresis and PSFs from top to bottom for 6 mT and 20 mT sinusoidal';
const capScale = (1098 - 34) / (tw(capL1b, `bold ${CAP}px "Liberation Serif"`) + tw(capL1, `${CAP}px "Liberation Serif"`));
const CRICH = {
  r: {fontFamily: FONT, fontSize: CAP, color: '#111'},
  b: {fontFamily: FONT, fontSize: CAP, fontWeight: 'bold', color: '#111'},
  i: {fontFamily: FONT, fontSize: CAP, fontStyle: 'italic', color: '#111'},
  sub: {fontFamily: FONT, fontSize: 13, verticalAlign: 'bottom', lineHeight: 13, color: '#111'},
};
const capLine = (y, text) => ({type: 'text', x: 34, y, scaleX: capScale, silent: true,
  style: {text, rich: CRICH, fontFamily: FONT, fontSize: CAP, verticalAlign: 'middle', align: 'left', fill: '#111', lineHeight: 24}});
const txt = (x, y, text, size, bold, extra) => Object.assign({type: 'text', x, y, silent: true,
  style: {text, fontFamily: FONT, fontSize: size, fontWeight: bold ? 'bold' : 'normal', fill: '#111', align: 'center', verticalAlign: 'middle'}}, extra || {});

const graphic = [
  {type: 'rect', z: -20, silent: true, shape: {x: 7, y: 8, width: 1153, height: 1000}, style: {fill: 'none', stroke: '#c6c6c6', lineWidth: 1.5}},
  {type: 'rect', z: -10, silent: true, shape: {x: 31, y: 35, width: 531, height: 841, r: 12}, style: {fill: '#f2f9fc'}},
  {type: 'rect', z: -10, silent: true, shape: {x: 572, y: 35, width: 566, height: 841, r: 12}, style: {fill: '#fdfbee'}},
  txt(286, 61, '6 mT drive-field amplitude', 16, true),
  txt(861, 61, '20 mT drive-field amplitude', 16, true),
  txt(213, 610, 'x-space', 15, true), txt(444, 610, 'dynamic', 15, true),
  txt(746, 610, 'x-space', 15, true), txt(977, 610, 'dynamic', 15, true),
  txt(1112, 192, 'spectrum', 18, true, {rotation: Math.PI / 2}),
  txt(1112, 458, 'hysteresis', 18, true, {rotation: Math.PI / 2}),
  txt(1112, 724, 'PSFs', 18, true, {rotation: Math.PI / 2}),
  txt(155, 640, 'FWHM', 13.5, false, {z: 100}),
  txt(687, 640, 'FWHM', 13.5, false, {z: 100}),
  {type: 'group', x: 995, y: 118, z: 50, silent: true, children: [
    {type: 'rect', shape: {x: -65, y: -11.5, width: 130, height: 23, r: 3}, style: {fill: '#e8e8e8'}},
    {type: 'text', style: {text: 'odd harmonics only', fontFamily: FONT, fontSize: 14, fill: '#8a8a8a', align: 'center', verticalAlign: 'middle'}}
  ]},
  {type: 'group', x: 53, y: 721, rotation: Math.PI / 2, silent: true, children: [
    {type: 'text', x: -62, y: -1, style: {text: 'dm', fontFamily: FONT, fontSize: 10, fill: '#111', align: 'center', verticalAlign: 'bottom'}},
    {type: 'line', shape: {x1: -69, y1: 0, x2: -55, y2: 0}, style: {stroke: '#111', lineWidth: 0.8}},
    {type: 'text', x: -62, y: 1, style: {text: 'dt', fontFamily: FONT, fontSize: 10, fill: '#111', align: 'center', verticalAlign: 'top'}},
    {type: 'text', x: -50, y: 0, style: {text: ' /  a.u. normalized', fontFamily: FONT, fontSize: 15, fill: '#111', align: 'left', verticalAlign: 'middle'}}
  ]},
  capLine(907, `{b|${capL1b}}{r|${capL1}}`),
  capLine(932, '{r|drive-field excitation. The frequency spectrum only contains odd harmonics of the fundamental }{i|f}{sub|1}{r| = 26.042 kHz. The FWHM of}'),
  capLine(957, '{r|the }{i|x}{r|-space PSF is given in the legend and the gray arrow indicates the scan direction (positive half-wave).}'),
];

const chart = echarts.init(document.getElementById('c'), null, {renderer: 'canvas'});
chart.setOption({
  animation: false, backgroundColor: '#ffffff',
  textStyle: {fontFamily: FONT},
  grid: grids, xAxis: xAxes.concat(mirrorX), yAxis: yAxes.concat(mirrorY), series, legend: legends, graphic
});
</script></body></html>
